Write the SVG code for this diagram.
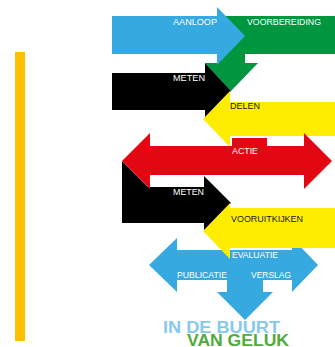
<svg xmlns="http://www.w3.org/2000/svg" width="335" height="347" viewBox="0 0 335 347">
<style>
.lbl{font-family:"Liberation Sans",Arial,sans-serif;font-size:9.5px}
.w{fill:#ffffff}
.k{fill:#1a1a1a}
.big{font-family:"Liberation Sans",Arial,sans-serif;font-size:16px;font-weight:bold}
</style>
<rect width="335" height="347" fill="#ffffff"/>
<g id="bar"><rect x="15" y="52" width="10" height="289" fill="#ffc000"/></g>
<g id="voorbereiding">
<path d="M217,16 H335 V54 H245 V63 H258 L231,91 L205,63 H217 Z" fill="#009640"/>
<text class="lbl w" x="247" y="25" textLength="74" lengthAdjust="spacingAndGlyphs">VOORBEREIDING</text>
</g>
<g id="aanloop">
<path d="M112,16 H217 V7 L245,36 L217,65 V54 H112 Z" fill="#36a9e1"/>
<text class="lbl w" x="173" y="25" textLength="44" lengthAdjust="spacingAndGlyphs">AANLOOP</text>
</g>
<g id="meten1">
<path d="M112,73 H205 V63 L231,91 L205,119 V110 H112 Z" fill="#000000"/>
<text class="lbl w" x="173" y="81" textLength="32" lengthAdjust="spacingAndGlyphs">METEN</text>
</g>
<g id="delen">
<path d="M230,91 V102 H335 V136 H230 V147 L203,119 Z" fill="#ffed00"/>
<text class="lbl k" x="230" y="109" textLength="30" lengthAdjust="spacingAndGlyphs">DELEN</text>
</g>
<g id="meten2">
<path d="M122,161 L148,187 H204 V176 L231,203 L204,231 V223 H122 Z" fill="#000000"/>
<text class="lbl w" x="173" y="194.5" textLength="31" lengthAdjust="spacingAndGlyphs">METEN</text>
</g>
<g id="actie">
<path d="M122,161 L150,133 V146 H232 V138 H267 V146 H304 V133 L332,161 L304,189 V175 H150 V189 Z" fill="#e30613"/>
<text class="lbl w" x="232" y="154" textLength="26" lengthAdjust="spacingAndGlyphs">ACTIE</text>
</g>
<g id="evaluatie">
<path d="M149,265 L177,238 V250 H292 V238 L318,265 L292,292 V280 H263 V292 H273 L245,320 L217,292 H227 V280 H177 V292 Z" fill="#36a9e1"/>
</g>
<g id="vooruitkijken">
<path d="M230,203 V208 H335 V248 H230 V259 L203,231 Z" fill="#ffed00"/>
<text class="lbl k" x="231" y="222" textLength="72" lengthAdjust="spacingAndGlyphs">VOORUITKIJKEN</text>
</g>
<g id="labels-evaluatie">
<text class="lbl w" x="232" y="258" textLength="46" lengthAdjust="spacingAndGlyphs">EVALUATIE</text>
<text class="lbl w" x="177" y="278" textLength="50" lengthAdjust="spacingAndGlyphs">PUBLICATIE</text>
<text class="lbl w" x="251" y="278" textLength="40" lengthAdjust="spacingAndGlyphs">VERSLAG</text>
</g>
<g id="title">
<text class="big" x="163" y="333" fill="#86c9ec" textLength="117" lengthAdjust="spacingAndGlyphs">IN DE BUURT</text>
<text class="big" x="187" y="345.5" fill="#4fac3a" textLength="102" lengthAdjust="spacingAndGlyphs">VAN GELUK</text>
</g>
</svg>
